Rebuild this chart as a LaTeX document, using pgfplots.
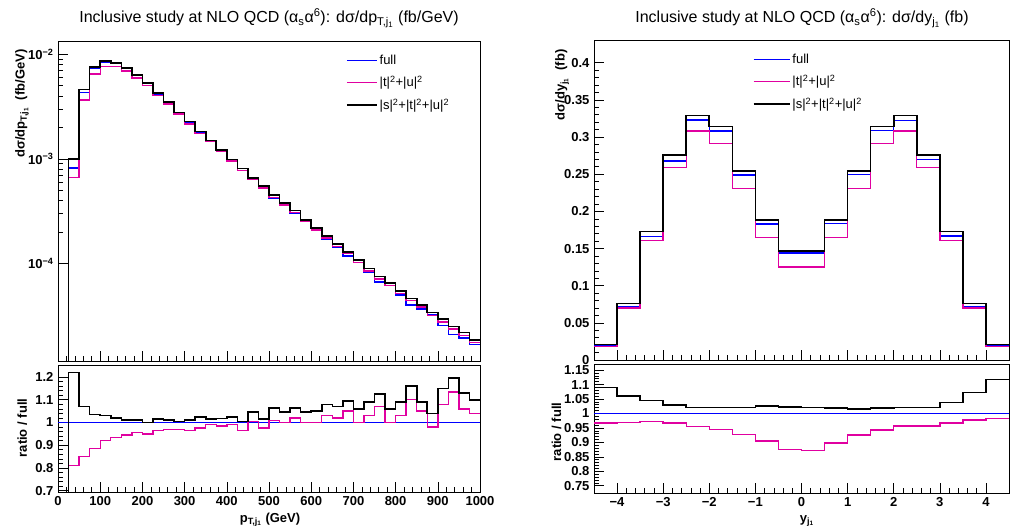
\documentclass[border=0pt]{standalone}
\usepackage{pgfplots}
\pgfplotsset{compat=1.18}
\usepackage{fontspec}
\setmainfont{Liberation Sans}
\definecolor{pinkc}{RGB}{224,0,160}
\definecolor{bluec}{RGB}{0,0,255}
\pgfplotsset{
  rootax/.style={scale only axis, tick align=inside, tick pos=left,
    major tick length=10pt, minor tick length=5pt,
    axis line style={black, line width=0.8pt},
    every tick/.style={black, line width=0.6pt},
    tick label style={font=\bfseries\fontsize{13}{13}\selectfont},
    /pgf/number format/assume math mode=true,
    /pgf/number format/1000 sep={},
    clip=true},
  hb/.style={const plot, no marks, draw=black, line width=1.6pt},
  hu/.style={const plot, no marks, draw=bluec, line width=1.4pt},
  hp/.style={const plot, no marks, draw=pinkc, line width=1.4pt},
}
\begin{document}
\begin{tikzpicture}
\useasboundingbox (0pt,0pt) rectangle (1010pt,528pt);
\fontsize{13}{15}\selectfont
% ---------------- left main
\begin{axis}[rootax, at={(58pt,167pt)}, anchor=south west, width=422pt, height=320pt,
  xmin=0, xmax=1000, ymode=log, ymin=1.17e-5, ymax=1.34e-2,
  xtick={0,100,...,1000}, minor x tick num=4, xticklabels={},
  ytick={1e-4,1e-3,1e-2}, yticklabels={10\textsuperscript{−4},10\textsuperscript{−3},10\textsuperscript{−2}},
  legend style={at={(0.675,0.97)}, anchor=north west, draw=none, fill=none,
    font=\fontsize{13}{15}\selectfont, row sep=6pt},
  legend cell align=left,
  legend image code/.code={\draw[#1] (0pt,0pt) -- (30pt,0pt);}]
\addplot[hu] coordinates {(0,1e-7)(25,8.2e-4)(50,4.30e-3)(75,7.34e-3)(100,8.35e-3)(125,8.14e-3)(150,7.33e-3)(175,6.24e-3)(200,5.30e-3)(225,4.19e-3)(250,3.46e-3)(275,2.77e-3)(300,2.24e-3)(325,1.785e-3)(350,1.478e-3)(375,1.189e-3)(400,9.66e-4)(425,8.06e-4)(450,6.32e-4)(475,5.42e-4)(500,4.23e-4)(525,3.64e-4)(550,3.00e-4)(575,2.51e-4)(600,2.10e-4)(625,1.69e-4)(650,1.43e-4)(675,1.18e-4)(700,1.02e-4)(725,8.26e-5)(750,6.67e-5)(775,6.13e-5)(800,5.0e-5)(825,4.01e-5)(850,3.67e-5)(875,3.27e-5)(900,2.55e-5)(925,2.09e-5)(950,1.94e-5)(975,1.69e-5)(1000,1.69e-5)};
\addlegendentry{full}
\addplot[hp] coordinates {(0,1e-7)(25,6.64e-4)(50,3.66e-3)(75,6.50e-3)(100,7.68e-3)(125,7.61e-3)(150,6.92e-3)(175,5.96e-3)(200,5.04e-3)(225,4.04e-3)(250,3.35e-3)(275,2.68e-3)(300,2.16e-3)(325,1.74e-3)(350,1.463e-3)(375,1.171e-3)(400,9.56e-4)(425,7.78e-4)(450,6.35e-4)(475,5.28e-4)(500,4.27e-4)(525,3.64e-4)(550,3.06e-4)(575,2.51e-4)(600,2.10e-4)(625,1.75e-4)(650,1.46e-4)(675,1.24e-4)(700,1.02e-4)(725,8.5e-5)(750,7.13e-5)(775,6.13e-5)(800,5.15e-5)(825,4.41e-5)(850,3.85e-5)(875,3.2e-5)(900,2.75e-5)(925,2.37e-5)(950,2.05e-5)(975,1.76e-5)(1000,1.76e-5)};
\addlegendentry{|t|\textsuperscript{2}+|u|\textsuperscript{2}}
\addplot[hb] coordinates {(0,1e-7)(25,1.0e-3)(50,4.6e-3)(75,7.6e-3)(100,8.6e-3)(125,8.3e-3)(150,7.4e-3)(175,6.3e-3)(200,5.3e-3)(225,4.25e-3)(250,3.5e-3)(275,2.78e-3)(300,2.27e-3)(325,1.83e-3)(350,1.5e-3)(375,1.21e-3)(400,9.9e-4)(425,8.1e-4)(450,6.6e-4)(475,5.5e-4)(500,4.5e-4)(525,3.8e-4)(550,3.2e-4)(575,2.62e-4)(600,2.2e-4)(625,1.83e-4)(650,1.53e-4)(675,1.29e-4)(700,1.08e-4)(725,9.0e-5)(750,7.5e-5)(775,6.5e-5)(800,5.45e-5)(825,4.65e-5)(850,4.0e-5)(875,3.4e-5)(900,2.93e-5)(925,2.5e-5)(950,2.19e-5)(975,1.86e-5)(1000,1.86e-5)};
\addlegendentry{|s|\textsuperscript{2}+|t|\textsuperscript{2}+|u|\textsuperscript{2}}
\end{axis}
% ---------------- left ratio
\begin{axis}[rootax, at={(58pt,36pt)}, anchor=south west, width=422pt, height=127pt,
  xmin=0, xmax=1000, ymin=0.694, ymax=1.253,
  xtick={0,100,...,1000}, minor x tick num=4,
  ytick={0.7,0.8,...,1.21}, minor y tick num=4,
  yticklabel style={/pgf/number format/fixed}]
\addplot[draw=bluec, line width=1.4pt, no marks] coordinates {(0,1)(1000,1)};
\addplot[hp] coordinates {(0,0)(25,0.81)(50,0.85)(75,0.885)(100,0.92)(125,0.935)(150,0.945)(175,0.955)(200,0.95)(225,0.965)(250,0.97)(275,0.97)(300,0.965)(325,0.975)(350,0.99)(375,0.985)(400,0.99)(425,0.965)(450,1.005)(475,0.975)(500,1.01)(525,1.0)(550,1.02)(575,1.0)(600,1.0)(625,1.03)(650,1.02)(675,1.05)(700,1.0)(725,1.03)(750,1.07)(775,1.0)(800,1.03)(825,1.10)(850,1.05)(875,0.98)(900,1.08)(925,1.135)(950,1.06)(975,1.04)(1000,1.04)};
\addplot[hb] coordinates {(0,0)(25,1.22)(50,1.07)(75,1.035)(100,1.03)(125,1.02)(150,1.01)(175,1.01)(200,1.0)(225,1.015)(250,1.012)(275,1.005)(300,1.012)(325,1.025)(350,1.015)(375,1.018)(400,1.025)(425,1.005)(450,1.045)(475,1.015)(500,1.065)(525,1.045)(550,1.065)(575,1.045)(600,1.05)(625,1.08)(650,1.07)(675,1.095)(700,1.06)(725,1.09)(750,1.125)(775,1.06)(800,1.09)(825,1.16)(850,1.09)(875,1.04)(900,1.15)(925,1.195)(950,1.13)(975,1.10)(1000,1.10)};
\end{axis}
% ---------------- right main
\begin{axis}[rootax, at={(594pt,168pt)}, anchor=south west, width=415pt, height=320pt,
  xmin=-4.5, xmax=4.5, ymin=0, ymax=0.4306,
  xtick={-4,...,4}, minor x tick num=4, xticklabels={},
  ytick={0,0.05,...,0.41}, minor y tick num=4,
  yticklabel style={/pgf/number format/fixed, /pgf/number format/precision=2},
  legend style={at={(0.375,0.97)}, anchor=north west, draw=none, fill=none,
    font=\fontsize{13}{15}\selectfont, row sep=6pt},
  legend cell align=left,
  legend image code/.code={\draw[#1] (0pt,0pt) -- (36pt,0pt);}]
\addplot[hu] coordinates {(-4.5,0.019)(-4,0.072)(-3.5,0.166)(-3,0.268)(-2.5,0.323)(-2,0.308)(-1.5,0.249)(-1,0.183)(-0.5,0.144)(0,0.144)(0.5,0.184)(1,0.250)(1.5,0.309)(2,0.322)(2.5,0.270)(3,0.167)(3.5,0.072)(4,0.0187)(4.5,0.0187)};
\addlegendentry{full}
\addplot[hp] coordinates {(-4.5,0.0185)(-4,0.070)(-3.5,0.161)(-3,0.259)(-2.5,0.308)(-2,0.291)(-1.5,0.231)(-1,0.165)(-0.5,0.125)(0,0.125)(0.5,0.165)(1,0.231)(1.5,0.291)(2,0.308)(2.5,0.259)(3,0.161)(3.5,0.070)(4,0.0185)(4.5,0.0185)};
\addlegendentry{|t|\textsuperscript{2}+|u|\textsuperscript{2}}
\addplot[hb] coordinates {(-4.5,0.021)(-4,0.076)(-3.5,0.173)(-3,0.276)(-2.5,0.329)(-2,0.314)(-1.5,0.254)(-1,0.188)(-0.5,0.147)(0,0.147)(0.5,0.188)(1,0.254)(1.5,0.314)(2,0.329)(2.5,0.276)(3,0.173)(3.5,0.076)(4,0.021)(4.5,0.021)};
\addlegendentry{|s|\textsuperscript{2}+|t|\textsuperscript{2}+|u|\textsuperscript{2}}
\end{axis}
% ---------------- right ratio
\begin{axis}[rootax, at={(594pt,35pt)}, anchor=south west, width=415pt, height=129pt,
  xmin=-4.5, xmax=4.5, ymin=0.725, ymax=1.171,
  xtick={-4,...,4}, minor x tick num=4,
  xticklabels={−4,−3,−2,−1,0,1,2,3,4},
  ytick={0.75,0.8,...,1.16}, minor y tick num=4,
  yticklabel style={/pgf/number format/fixed, /pgf/number format/precision=2}]
\addplot[draw=bluec, line width=1.4pt, no marks] coordinates {(-4.5,1)(4.5,1)};
\addplot[hp] coordinates {(-4.5,0.967)(-4,0.968)(-3.5,0.972)(-3,0.967)(-2.5,0.955)(-2,0.945)(-1.5,0.928)(-1,0.905)(-0.5,0.875)(0,0.872)(0.5,0.898)(1,0.925)(1.5,0.943)(2,0.957)(2.5,0.957)(3,0.967)(3.5,0.977)(4,0.983)(4.5,0.983)};
\addplot[hb] coordinates {(-4.5,1.09)(-4,1.06)(-3.5,1.045)(-3,1.03)(-2.5,1.02)(-2,1.02)(-1.5,1.02)(-1,1.025)(-0.5,1.022)(0,1.02)(0.5,1.018)(1,1.016)(1.5,1.018)(2,1.02)(2.5,1.02)(3,1.038)(3.5,1.072)(4,1.118)(4.5,1.118)};
\end{axis}
% ---------------- texts
\node[anchor=base] at (269pt,505pt) {\fontsize{16}{18}\selectfont Inclusive study at NLO QCD (α\textsubscript{s}α\textsuperscript{6}): dσ/dp\textsubscript{T,j\textsubscript{1}} (fb/GeV)};
\node[anchor=base] at (802pt,505pt) {\fontsize{16}{18}\selectfont Inclusive study at NLO QCD (α\textsubscript{s}α\textsuperscript{6}): dσ/dy\textsubscript{j\textsubscript{1}} (fb)};
\node[rotate=90, anchor=east, font=\bfseries] at (22pt,483pt) {dσ/dp\textsubscript{T,j\textsubscript{1}}\ \ (fb/GeV)};
\node[rotate=90, anchor=base, font=\bfseries] at (27pt,100pt) {ratio / full};
\node[rotate=90, anchor=east, font=\bfseries] at (562pt,483pt) {dσ/dy\textsubscript{j\textsubscript{1}}\ \ (fb)};
\node[rotate=90, anchor=base, font=\bfseries] at (561pt,96pt) {ratio / full};
\node[anchor=base, font=\bfseries] at (270pt,6pt) {p\textsubscript{T,j\textsubscript{1}} (GeV)};
\node[anchor=base, font=\bfseries] at (807pt,6pt) {y\textsubscript{j\textsubscript{1}}};
\end{tikzpicture}
\end{document}
